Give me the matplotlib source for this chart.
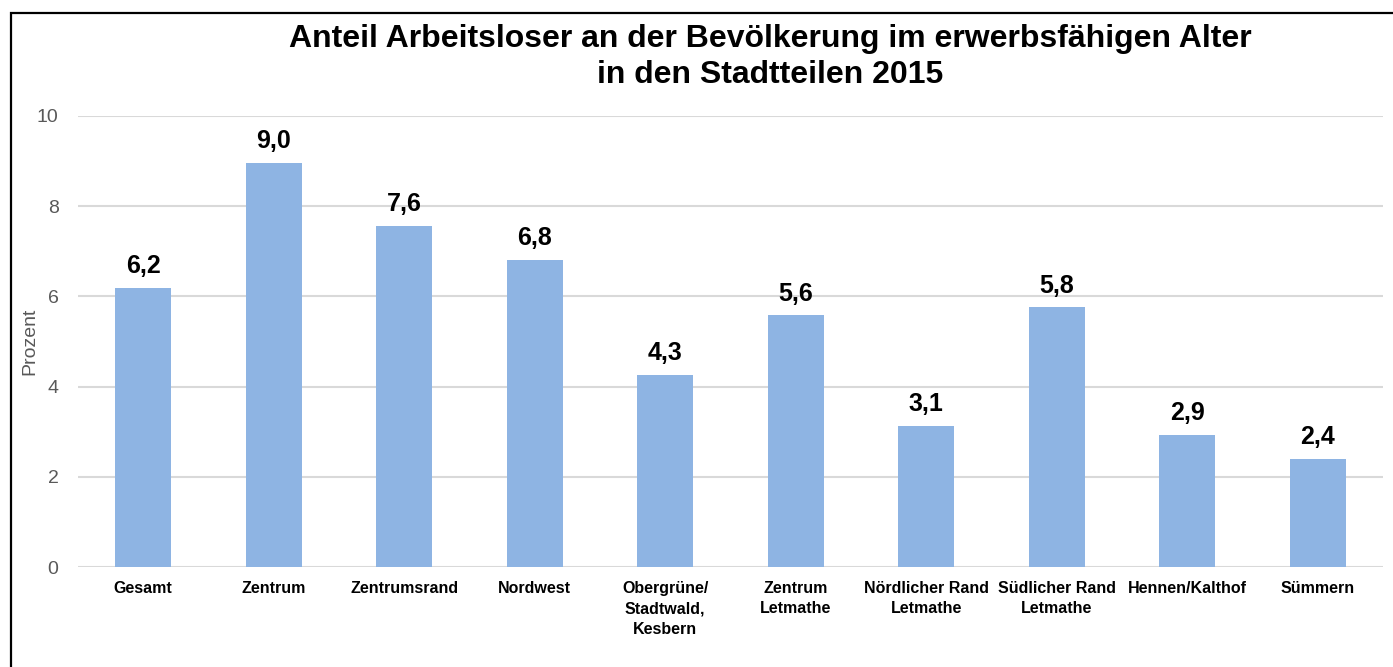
import matplotlib

matplotlib.use("Agg")
import matplotlib.pyplot as plt
from matplotlib.patches import Rectangle

plt.rcParams["font.family"] = ["Liberation Sans", "DejaVu Sans"]

# data
districts = [
    "Gesamt", "Zentrum", "Zentrumsrand", "Nordwest",
    "Obergrüne/\nStadtwald,\nKesbern", "Zentrum\nLetmathe",
    "Nördlicher Rand\nLetmathe", "Südlicher Rand\nLetmathe",
    "Hennen/Kalthof", "Sümmern",
]
share = [6.19, 8.96, 7.57, 6.81, 4.26, 5.58, 3.13, 5.76, 2.93, 2.39]
yticks = [0, 2, 4, 6, 8, 10]

BAR = "#8EB4E3"
GRID = "#D9D9D9"
GREY = "#595959"

fig = plt.figure(figsize=(13.93, 6.67), dpi=100)
ax = fig.add_axes([78 / 1393, 1 - 567 / 667, 1305 / 1393, 451 / 667])

x = range(len(districts))
bars = ax.bar(x, share, width=0.43, color=BAR, zorder=2)
for b, v in zip(bars, share):
    ax.annotate(f"{v:.1f}".replace(".", ","),
                (b.get_x() + b.get_width() / 2, b.get_height()),
                xytext=(0, 7), textcoords="offset points",
                ha="center", va="bottom", fontsize=18, fontweight="bold")

ax.set_xlim(-0.5, len(districts) - 0.5)
ax.set_ylim(0, 10)
ax.set_yticks(yticks)
ax.set_yticklabels([str(t) for t in yticks], color=GREY, fontsize=14)
ax.set_xticks(list(x))
ax.set_xticklabels(districts, fontsize=11.5, fontweight="bold", linespacing=1.45)
ax.tick_params(axis="both", length=0)
ax.tick_params(axis="y", pad=14)
ax.tick_params(axis="x", pad=10)
ax.grid(axis="y", color=GRID, lw=1.5, zorder=0)
for s in ax.spines.values():
    s.set_visible(False)
ax.set_ylabel("Prozent", color=GREY, fontsize=14)
ax.yaxis.set_label_coords(-0.03, 0.5)

fig.text(770 / 1393, 1 - 57 / 667,
         "Anteil Arbeitsloser an der Bevölkerung im erwerbsfähigen Alter\n"
         "in den Stadtteilen 2015",
         ha="center", va="center", fontsize=23, fontweight="bold",
         linespacing=1.3)

# outer frame, cut off on the right and bottom like the original
fig.patches.append(Rectangle((10.5 / 1393, -0.1), 1.2, 1.1 - 13.5 / 667,
                             transform=fig.transFigure, fill=False,
                             edgecolor="black", lw=1.6))

fig.savefig("out.png", dpi=100)
